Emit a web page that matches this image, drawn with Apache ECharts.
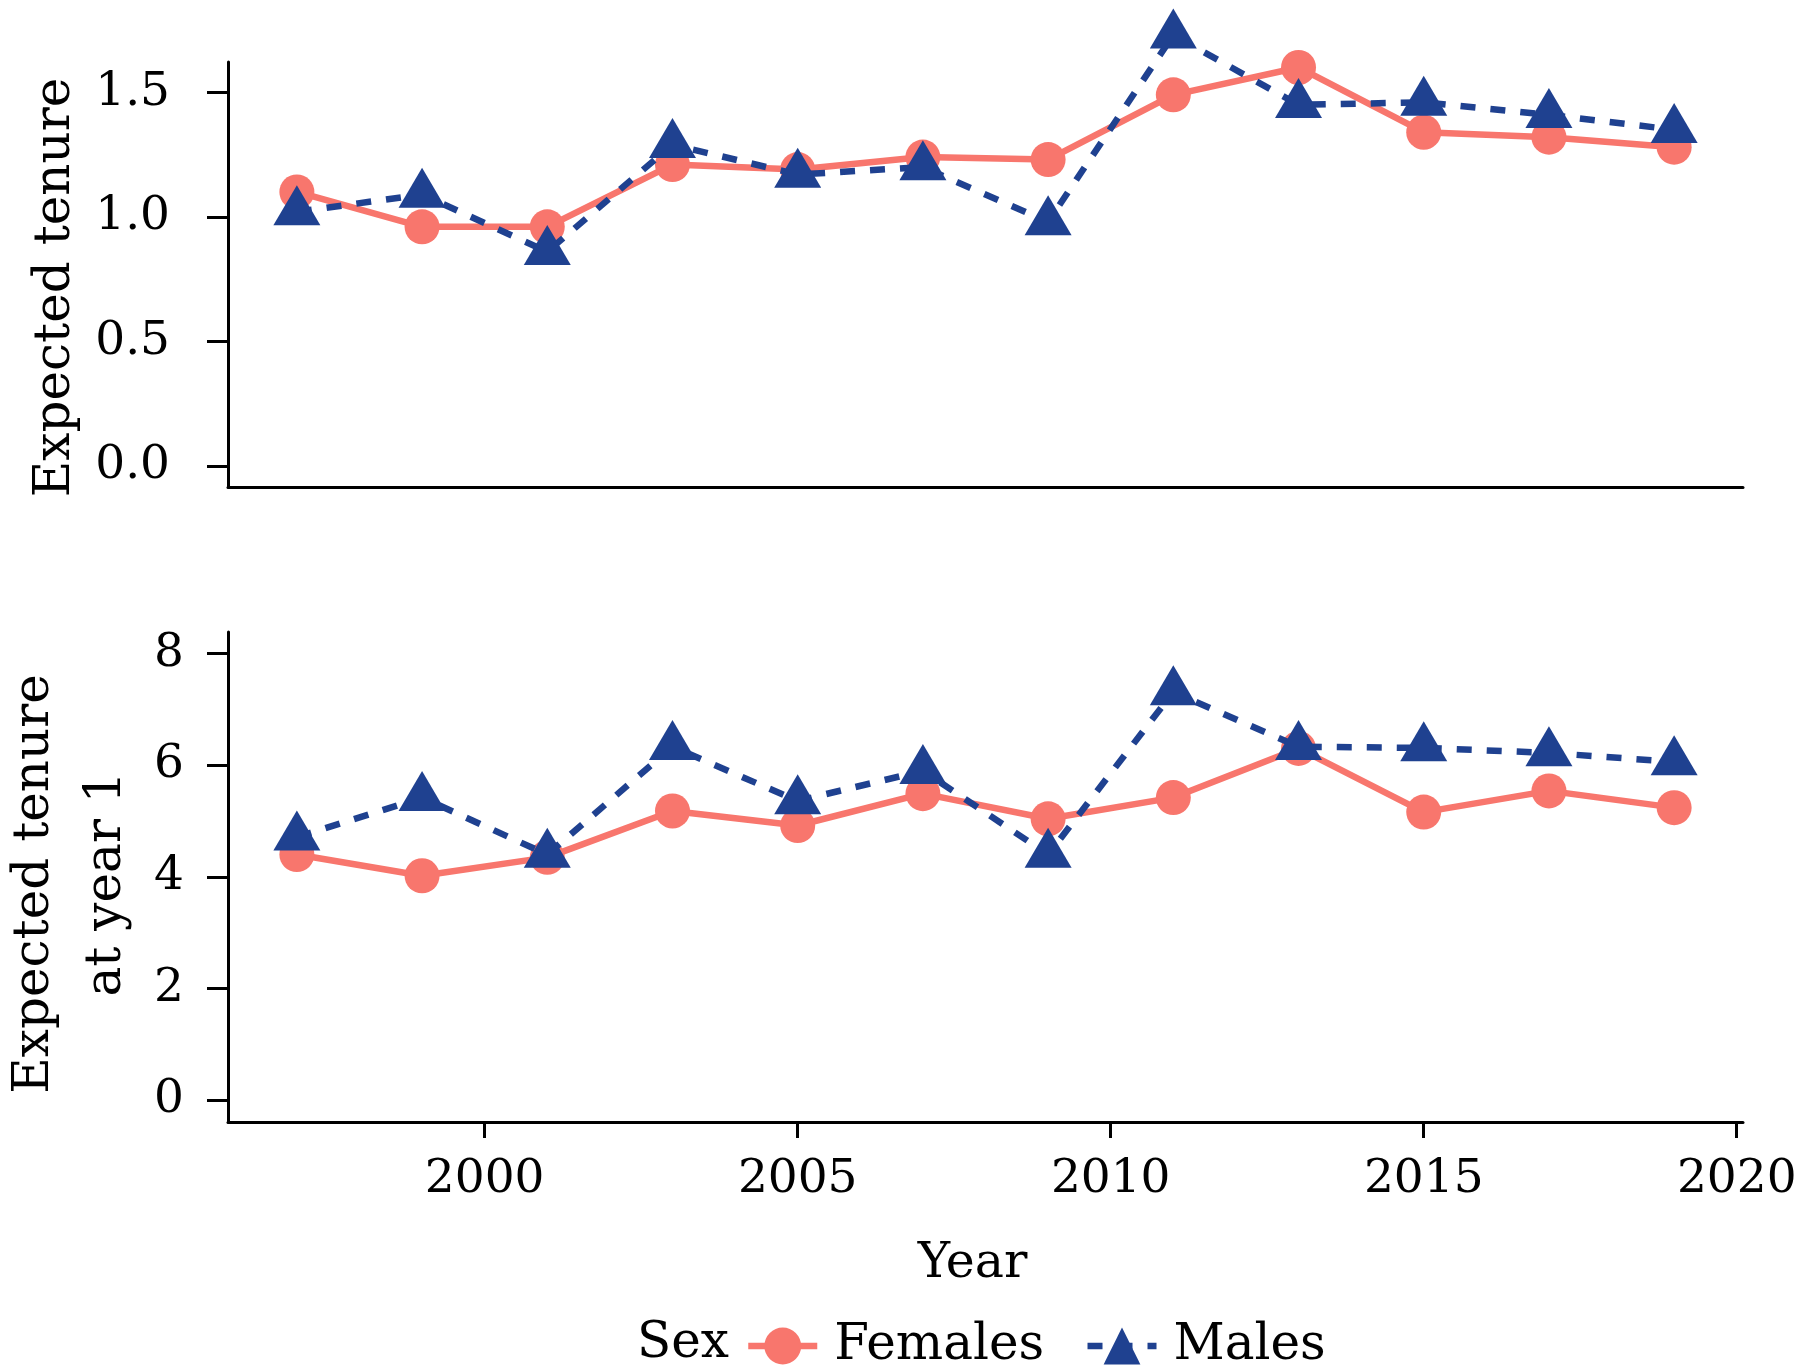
<!DOCTYPE html>
<html><head><meta charset="utf-8">
<script src="https://cdn.jsdelivr.net/npm/echarts@6.0.0/dist/echarts.min.js"></script>
<style>html,body{margin:0;padding:0;background:#fff}#c{width:1800px;height:1369px}</style>
</head><body><div id="c"></div>
<script>
// ---- data ----
const years = [1997, 1999, 2001, 2003, 2005, 2007, 2009, 2011, 2013, 2015, 2017, 2019];
const femalesTenure = [1.10, 0.96, 0.96, 1.21, 1.19, 1.24, 1.23, 1.49, 1.60, 1.34, 1.32, 1.28];
const malesTenure   = [1.02, 1.09, 0.86, 1.29, 1.17, 1.20, 0.98, 1.73, 1.45, 1.46, 1.41, 1.35];
const femalesYear1  = [4.40, 4.02, 4.35, 5.18, 4.92, 5.49, 5.04, 5.42, 6.30, 5.16, 5.54, 5.24];
const malesYear1    = [4.71, 5.42, 4.40, 6.33, 5.36, 5.90, 4.40, 7.31, 6.33, 6.31, 6.22, 6.06];
const xTicks = [2000, 2005, 2010, 2015, 2020];
const topTicks = [0, 0.5, 1.0, 1.5];
const bottomTicks = [0, 2, 4, 6, 8];
const seriesNames = ['Females', 'Males'];

// ---- style ----
const FONT = 'DejaVu Serif';
const FEM = '#F8766D';
const MAL = '#1F4190';
const axisLine = { show: true, onZero: false, lineStyle: { color: '#000', width: 3 } };
const tickLine = { color: '#000', width: 3 };
const pairs = (vals) => years.map((y, i) => [y, vals[i]]);

function femSeries(xi, vals) {
  return {
    name: seriesNames[0], type: 'line', xAxisIndex: xi, yAxisIndex: xi,
    data: pairs(vals), symbol: 'circle', symbolSize: 35, clip: false,
    lineStyle: { color: FEM, width: 6.5 }, itemStyle: { color: FEM }, z: 2
  };
}
function malSeries(xi, vals) {
  return {
    name: seriesNames[1], type: 'line', xAxisIndex: xi, yAxisIndex: xi,
    data: pairs(vals), symbol: 'triangle', symbolSize: [47, 40], symbolOffset: [0, -6.7], clip: false,
    lineStyle: { color: MAL, width: 6.5, type: [15, 15] }, itemStyle: { color: MAL }, z: 3
  };
}

const chart = echarts.init(document.getElementById('c'), null, { renderer: 'canvas' });
chart.setOption({
  animation: false,
  backgroundColor: '#fff',
  grid: [
    { left: 228, right: 57, top: 62, height: 425, outerBoundsMode: 'none', containLabel: false },
    { left: 228, right: 57, top: 632, height: 490, outerBoundsMode: 'none', containLabel: false }
  ],
  xAxis: [
    { gridIndex: 0, type: 'value', min: 1995.9, max: 2020.1, axisLine,
      axisTick: { show: false }, axisLabel: { show: false }, splitLine: { show: false } },
    { gridIndex: 1, type: 'value', min: 1995.9, max: 2020.1, axisLine,
      axisTick: { show: true, length: 16, customValues: xTicks, lineStyle: tickLine },
      axisLabel: { customValues: xTicks, margin: 34, fontSize: 47, fontFamily: FONT, color: '#000', formatter: v => String(v) },
      splitLine: { show: false },
      name: 'Year', nameLocation: 'middle', nameGap: 118,
      nameTextStyle: { fontSize: 49, fontFamily: FONT, color: '#000', padding: [0, 26, 0, 0] } }
  ],
  yAxis: [
    { gridIndex: 0, type: 'value', min: -0.085, max: 1.622, axisLine,
      axisTick: { show: true, length: 21, customValues: topTicks, lineStyle: tickLine },
      axisLabel: { customValues: topTicks, margin: 58, fontSize: 47, fontFamily: FONT, color: '#000', formatter: v => v.toFixed(1) },
      splitLine: { show: false },
      name: 'Expected tenure', nameLocation: 'middle', nameGap: 147,
      nameTextStyle: { fontSize: 50, fontFamily: FONT, color: '#000', padding: [0, 26, 0, 0] } },
    { gridIndex: 1, type: 'value', min: -0.389, max: 8.385, axisLine,
      axisTick: { show: true, length: 21, customValues: bottomTicks, lineStyle: tickLine },
      axisLabel: { customValues: bottomTicks, margin: 44, fontSize: 47, fontFamily: FONT, color: '#000', formatter: v => String(v) },
      splitLine: { show: false },
      name: 'Expected tenure\nat year 1', nameLocation: 'middle', nameGap: 82,
      nameTextStyle: { fontSize: 50, lineHeight: 72, fontFamily: FONT, color: '#000', padding: [0, 14, 0, 0] } }
  ],
  legend: {
    data: seriesNames, left: 740, top: 1316, itemWidth: 69, itemHeight: 46, itemGap: 40,
    lineStyle: { width: 6.5 },
    textStyle: { fontFamily: FONT, fontSize: 50, color: '#000', padding: [0, 0, 0, 12] }
  },
  graphic: [
    { type: 'text', left: 637, top: 1319, style: { text: 'Sex', font: '50px "DejaVu Serif"', fill: '#000' } }
  ],
  series: [
    femSeries(0, femalesTenure), malSeries(0, malesTenure),
    femSeries(1, femalesYear1), malSeries(1, malesYear1)
  ]
});
</script></body></html>
